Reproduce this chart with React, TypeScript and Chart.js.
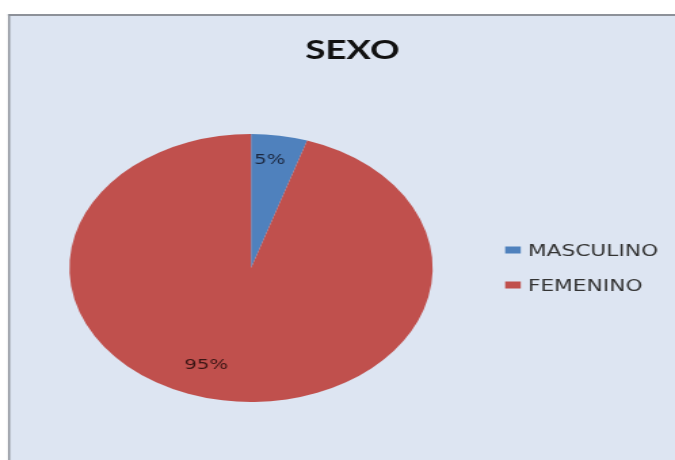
import React, { useEffect, useRef } from "react";
import { Chart, registerables } from "chart.js";

Chart.register(...registerables);

const TITLE = "SEXO";
const CATEGORIES = ["MASCULINO", "FEMENINO"];
const VALUES = [5, 95];
const COLORS = ["#4f81bd", "#c0504d"];

const STRETCH = 1.3554; // the reference image is stretched horizontally
const W = 504;
const H = 460;

const framePlugin = {
  id: "frame",
  beforeDraw(chart: any) {
    const ctx = chart.ctx;
    ctx.save();
    ctx.fillStyle = "#ffffff";
    ctx.fillRect(0, 0, chart.width, chart.height);
    ctx.fillStyle = "#dde5f2";
    ctx.fillRect(6.5, 14.5, chart.width, chart.height);
    ctx.fillStyle = "#8d9199";
    ctx.fillRect(5.9, 14, chart.width, 2);
    ctx.fillRect(5.9, 14, 1.5, chart.height);
    ctx.restore();
  },
  afterDraw(chart: any) {
    const ctx = chart.ctx;
    ctx.save();
    // title
    ctx.fillStyle = "#111111";
    ctx.font = "bold 27px Lato, 'DejaVu Sans', sans-serif";
    ctx.textAlign = "center";
    ctx.textBaseline = "alphabetic";
    ctx.fillText(TITLE, 260, 59);

    // data labels
    const meta = chart.getDatasetMeta(0);
    const total = VALUES.reduce((a, b) => a + b, 0);
    ctx.font = "14.5px 'DejaVu Sans', sans-serif";
    ctx.textBaseline = "middle";
    meta.data.forEach((arc: any, i: number) => {
      const p = arc.getProps(["x", "y", "startAngle", "endAngle", "outerRadius"], true);
      const span = p.endAngle - p.startAngle;
      const mid = (p.startAngle + p.endAngle) / 2 + (span > Math.PI ? 0.17 : -0.03);
      const f = span > Math.PI ? 0.77 : 0.81;
      const x = p.x + Math.cos(mid) * p.outerRadius * f;
      const y = p.y + Math.sin(mid) * p.outerRadius * f;
      ctx.fillStyle = i === 0 ? "#1c2840" : "#3a1514";
      const pct = Math.round((VALUES[i] / total) * 100) + "%";
      ctx.fillText(pct, x, y);
    });

    // legend
    ctx.textAlign = "left";
    ctx.textBaseline = "alphabetic";
    ctx.font = "16px 'DejaVu Sans', sans-serif";
    const labels = chart.data.labels as string[];
    const colors = chart.data.datasets[0].backgroundColor as string[];
    labels.forEach((lab, i) => {
      const base = 256 + i * 35;
      ctx.fillStyle = colors[i];
      ctx.fillRect(372.7, base - 9.5, 11.5, 7);
      ctx.fillStyle = "#333333";
      ctx.fillText(lab, 389.5, base);
    });
    ctx.restore();
  },
};

export default function App() {
  const ref = useRef<HTMLCanvasElement | null>(null);
  useEffect(() => {
    document.body.style.overflow = "hidden";
    if (!ref.current) return;
    const chart = new Chart(ref.current, {
      type: "pie",
      data: {
        labels: CATEGORIES,
        datasets: [
          {
            data: VALUES,
            backgroundColor: COLORS,
            borderWidth: 0,
          },
        ],
      },
      options: {
        responsive: false,
        animation: false,
        layout: { padding: { left: 51.2, right: 178.8 + (W - 498), top: 134, bottom: 58 } },
        plugins: {
          legend: { display: false },
          title: { display: false },
          tooltip: { enabled: false },
        },
      },
      plugins: [framePlugin],
    });
    return () => chart.destroy();
  }, []);
  return (
    <div style={{ position: "fixed", left: 0, top: 0, width: 675, height: 460, overflow: "hidden" }}>
      <div
        style={{
          position: "absolute",
          left: 0,
          top: 0,
          width: W,
          height: H,
          transform: `scaleX(${STRETCH})`,
          transformOrigin: "0 0",
        }}
      >
        <canvas ref={ref} width={W} height={H} style={{ width: W + "px", height: H + "px", display: "block" }} />
      </div>
    </div>
  );
}
